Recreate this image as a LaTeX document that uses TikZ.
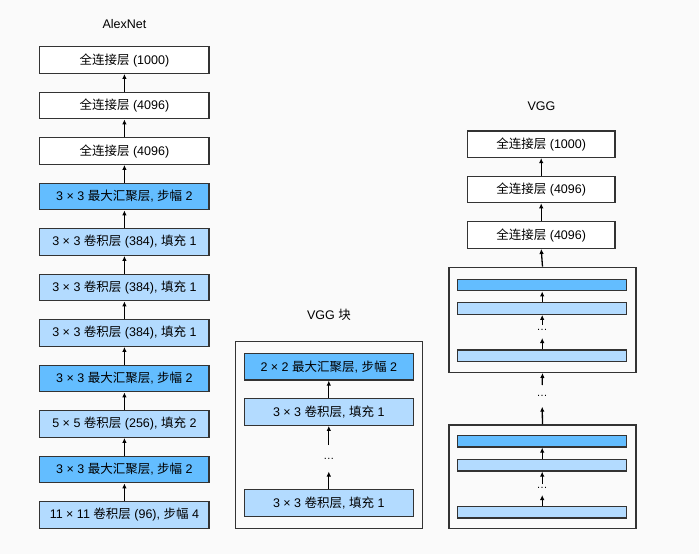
\documentclass[tikz,border=0pt]{standalone}
\usepackage{fontspec}
\setmainfont{Liberation Sans}
\newfontfamily\cjk{Noto Sans CJK SC}
\usetikzlibrary{arrows.meta}
\newcommand{\C}[1]{{\cjk #1}}
\definecolor{bgc}{HTML}{FAFAFA}
\definecolor{dkb}{HTML}{63BDFF}
\definecolor{ltb}{HTML}{B3DBFF}
\definecolor{edge}{HTML}{333333}
\tikzset{
  box/.style={draw=edge, line width=1.3pt, inner sep=0pt, font=\fontsize{12.5}{14}\selectfont},
  fc/.style={box, fill=white, minimum width=#1, minimum height=26.5pt},
  pool/.style={box, fill=dkb, minimum width=#1, minimum height=26.5pt},
  conv/.style={box, fill=ltb, minimum width=#1, minimum height=26.5pt},
  pbar/.style={box, fill=dkb, minimum width=169pt, minimum height=11.5pt},
  cbar/.style={box, fill=ltb, minimum width=169pt, minimum height=11.5pt},
  outer/.style={draw=edge, line width=1.3pt},
  arr/.style={-{Latex[length=5pt,width=4.5pt]}, line width=1.3pt, black},
  ttl/.style={font=\fontsize{12.5}{14}\selectfont},
  dots/.style={font=\fontsize{11}{12}\selectfont, inner sep=0pt}
}
\begin{document}
\begin{tikzpicture}[x=1pt,y=-1pt]
\fill[bgc] (0,0) rectangle (699,554);
\useasboundingbox (0,0) rectangle (699,554);
% AlexNet
\node[ttl] (tA) at (124.4,24) {AlexNet};
\node[fc=169.3pt]   (a1)  at (124.4,60)    {\C{全连接层} (1000)};
\node[fc=169.3pt]   (a2)  at (124.4,105.5) {\C{全连接层} (4096)};
\node[fc=169.3pt]   (a3)  at (124.4,151)   {\C{全连接层} (4096)};
\node[pool=169.3pt] (a4)  at (124.4,196.5) {3 × 3 \C{最大汇聚层}, \C{步幅} 2};
\node[conv=169.3pt] (a5)  at (124.4,242)   {3 × 3 \C{卷积层} (384), \C{填充} 1};
\node[conv=169.3pt] (a6)  at (124.4,287.5) {3 × 3 \C{卷积层} (384), \C{填充} 1};
\node[conv=169.3pt] (a7)  at (124.4,333)   {3 × 3 \C{卷积层} (384), \C{填充} 1};
\node[pool=169.3pt] (a8)  at (124.4,378.5) {3 × 3 \C{最大汇聚层}, \C{步幅} 2};
\node[conv=169.3pt] (a9)  at (124.4,424)   {5 × 5 \C{卷积层} (256), \C{填充} 2};
\node[pool=169.3pt] (a10) at (124.4,469.5) {3 × 3 \C{最大汇聚层}, \C{步幅} 2};
\node[conv=169.3pt] (a11) at (124.4,515)   {11 × 11 \C{卷积层} (96), \C{步幅} 4};
\foreach \i/\j in {11/10,10/9,9/8,8/7,7/6,6/5,5/4,4/3,3/2,2/1}
  \draw[arr] (a\i.north) -- (a\j.south);
% VGG block
\node[ttl] (tB) at (329,315) {VGG \C{块}};
\draw[outer] (235.3,341.7) rectangle (422.7,528.7);
\node[pool=169pt] (b1) at (328.8,366.7) {2 × 2 \C{最大汇聚层}, \C{步幅} 2};
\node[conv=169pt] (b2) at (328.8,412)   {3 × 3 \C{卷积层}, \C{填充} 1};
\node[dots] (bd) at (328.8,459) {\dots};
\node[conv=169pt] (b3) at (328.8,503)   {3 × 3 \C{卷积层}, \C{填充} 1};
\coordinate (bt1) at (328.8,445);
\coordinate (bh3) at (328.8,471.5);
\draw[arr] (b2.north) -- (b1.south);
\draw[arr] (bt1) -- (b2.south);
\draw[arr] (b3.north) -- (bh3);
% VGG
\node[ttl] (tC) at (541.5,106) {VGG};
\node[fc=147.7pt] (c1) at (541.2,144.2) {\C{全连接层} (1000)};
\node[fc=147.7pt] (c2) at (541.2,189.4) {\C{全连接层} (4096)};
\node[fc=147.7pt] (c3) at (541.2,235)   {\C{全连接层} (4096)};
\draw[arr] (c2.north) -- (c1.south);
\draw[arr] (c3.north) -- (c2.south);
% upper block
\node[outer, minimum width=187pt, minimum height=105pt, inner sep=0pt] (U) at (542.5,319.8) {};
\node[pbar] (u1) at (542.2,285)   {};
\node[cbar] (u2) at (542.2,308.5) {};
\node[dots] (ud) at (542.2,330) {\dots};
\node[cbar] (u3) at (542.2,355.7) {};
\coordinate (ut2) at (542.2,325);
\coordinate (uh3) at (542.2,338);
\draw[arr] (u2.north) -- (u1.south);
\draw[arr] (ut2) -- (u2.south);
\draw[arr] (u3.north) -- (uh3);
\draw[arr] (U.north) -- (c3.south);
% between blocks
\node[dots] (md) at (542.2,395.5) {\dots};
\coordinate (mt) at (542.2,385);
\coordinate (mh) at (542.2,406.7);
% lower block
\node[outer, minimum width=187pt, minimum height=103.3pt, inner sep=0pt] (L) at (542.5,476.7) {};
\draw[arr] (mt) -- (U.south);
\draw[arr] (L.north) -- (mh);
\node[pbar] (l1) at (542.2,441.2) {};
\node[cbar] (l2) at (542.2,465.2) {};
\node[dots] (ld) at (542.2,487.5) {\dots};
\node[cbar] (l3) at (542.2,512.2) {};
\coordinate (lt2) at (542.2,484);
\coordinate (lh3) at (542.2,495);
\draw[arr] (l2.north) -- (l1.south);
\draw[arr] (lt2) -- (l2.south);
\draw[arr] (l3.north) -- (lh3);
\end{tikzpicture}
\end{document}
